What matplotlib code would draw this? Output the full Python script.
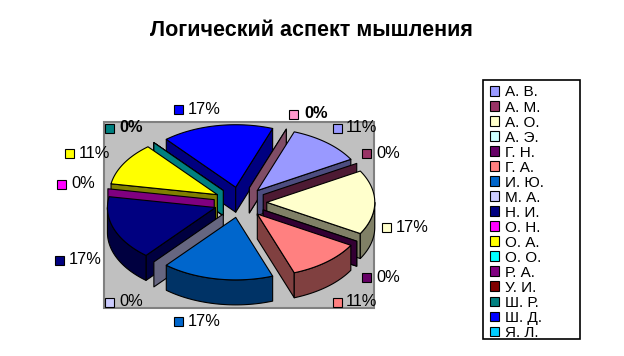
import numpy as np
import matplotlib
matplotlib.use("Agg")
import matplotlib.pyplot as plt
from matplotlib.patches import Polygon, Rectangle

plt.rcParams['font.family'] = ['Liberation Sans', 'DejaVu Sans']

TITLE = "Логический аспект мышления"
categories = ["А. В.", "А. М.", "А. О.", "А. Э.", "Г. Н.", "Г. А.", "И. Ю.", "М. А.", "Н. И.",
              "О. Н.", "О. А.", "О. О.", "Р. А.", "У. И.", "Ш. Р.", "Ш. Д.", "Я. Л.", ""]
counts = [2, 0, 3, 0, 0, 2, 3, 0, 3, 0, 2, 0, 0, 0, 0, 3, 0, 0]
colors = ["#9999FF", "#993366", "#FFFFCC", "#CCFFFF", "#660066", "#FF8080", "#0066CC", "#CCCCFF", "#000080",
          "#FF00FF", "#FFFF00", "#00FFFF", "#800080", "#800000", "#008080", "#0000FF", "#00CCFF", "#FF99CC"]

# index of the slice -> swatch left x, centre y, text x, bold
label_layout = {
    15: (174, 109, 188, False), 17: (289, 114, 304, True), 0: (333, 128, 346, False),
    1: (362, 153, 376, False), 2: (382, 227, 396, False), 4: (362, 277, 376, False),
    5: (333, 302, 346, False), 6: (174, 321, 188, False), 7: (105, 302, 119, False),
    8: (55, 260, 69, False), 9: (57, 184, 71, False), 10: (65, 153, 79, False),
    14: (105, 128, 119, True),
}

CX, CY, RX, RY, DEPTH, EXPLODE, START = 240.3, 202.3, 108, 62.5, 25, 0.245, 20

fig = plt.figure(figsize=(6.24, 3.56), dpi=100, facecolor="white")
ax = fig.add_axes([0, 0, 1, 1])
ax.set_xlim(0, 624)
ax.set_ylim(356, 0)
ax.axis("off")

ax.add_patch(Rectangle((104, 122), 270, 186, fc="#C0C0C0", ec="#808080", lw=1.5, zorder=1))

def dark(c):
    r, g, b = matplotlib.colors.to_rgb(c)
    return (r / 2, g / 2, b / 2)

def pt(ox, oy, deg, dz=0):
    t = np.radians(deg)
    return (ox + RX * np.sin(t), oy - RY * np.cos(t) + dz)

total = sum(counts)
edges = START + np.concatenate([[0], np.cumsum(counts)]) * 360.0 / total
slices = []
for i, c in enumerate(counts):
    a0, a1 = edges[i], edges[i + 1]
    mid = (a0 + a1) / 2
    key = -np.cos(np.radians(mid))
    slices.append((key, i if np.sin(np.radians(mid)) > 0 else -i, i, a0, a1, mid))
slices.sort(key=lambda s: (round(s[0], 6), s[1]))

def poly(points, fc, z):
    ax.add_patch(Polygon(points, closed=True, fc=fc, ec="black", lw=0.8, zorder=z, joinstyle="round"))

z = 2.0
for key, _, i, a0, a1, mid in slices:
    t = np.radians(mid)
    ox = CX + EXPLODE * RX * np.sin(t)
    oy = CY - EXPLODE * RY * np.cos(t)
    col = colors[i]
    d = dark(col)
    if a1 > a0:
        walls = [a for a, vis in ((a0, np.sin(np.radians(a0)) < 0), (a1, np.sin(np.radians(a1)) > 0)) if vis]
    else:
        walls = [a0]
    for a in walls:
        p = pt(ox, oy, a)
        poly([(ox, oy), p, (p[0], p[1] + DEPTH), (ox, oy + DEPTH)], d, z)
        z += 0.001
    # outer rim: only the front half of the ellipse faces the viewer
    lo, hi = max(a0, 90), min(a1, 270)
    if hi > lo:
        arc = np.linspace(lo, hi, 40)
        top = [pt(ox, oy, a) for a in arc]
        bot = [pt(ox, oy, a, DEPTH) for a in arc[::-1]]
        poly(top + bot, d, z)
        z += 0.001
    if a1 > a0:
        arc = np.linspace(a0, a1, 60)
        poly([(ox, oy)] + [pt(ox, oy, a) for a in arc], col, z)
        z += 0.001

for i, (sx, sy, tx, bold) in label_layout.items():
    ax.add_patch(Rectangle((sx, sy - 4.5), 9, 9, fc=colors[i], ec="black", lw=0.8, zorder=5))
    ax.text(tx, sy, f"{round(100 * counts[i] / total)}%", fontsize=11.8, va="center", ha="left",
            fontweight="bold" if bold else "normal", color="black", zorder=6)

ax.text(311, 31, TITLE, fontsize=15.5, fontweight="bold", ha="center", va="center", color="black")

ax.add_patch(Rectangle((483, 80), 97, 259, fc="white", ec="black", lw=1.2, zorder=9))
handles = [Rectangle((0, 0), 1, 1, fc=colors[i], ec="black", lw=0.8, label=categories[i]) for i in range(17)]
leg = ax.legend(handles=handles, loc="upper left", bbox_to_anchor=(490 / 624, 1 - 85.5 / 356),
                fontsize=11, frameon=False, labelspacing=0.067, handlelength=0.62, handleheight=0.62,
                handletextpad=0.33, borderaxespad=0, borderpad=0)
leg.set_zorder(10)

fig.savefig("out.png", dpi=100)
